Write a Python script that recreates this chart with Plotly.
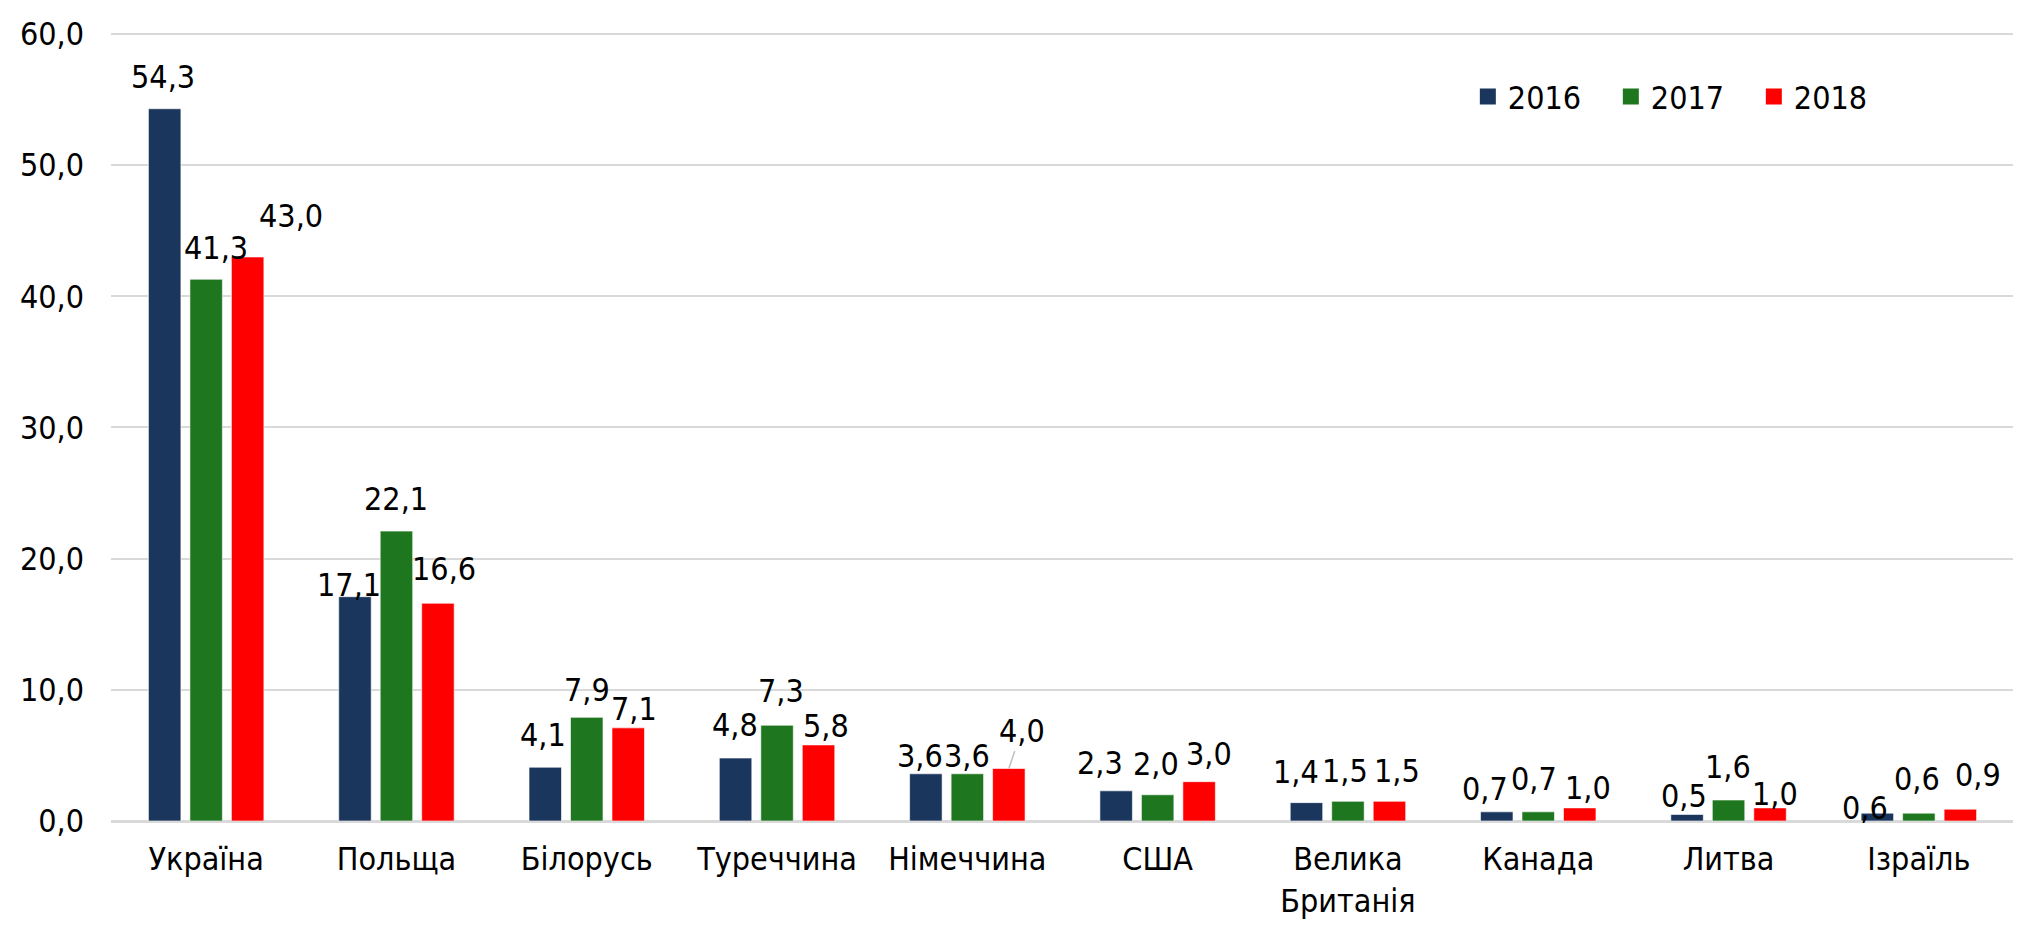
import plotly.graph_objects as go

categories = ["Україна", "Польща", "Білорусь", "Туреччина", "Німеччина", "США",
              "Велика<br>Британія", "Канада", "Литва", "Ізраїль"]
years = ["2016", "2017", "2018"]
v2016 = [54.3, 17.1, 4.1, 4.8, 3.6, 2.3, 1.4, 0.7, 0.5, 0.6]
v2017 = [41.3, 22.1, 7.9, 7.3, 3.6, 2.0, 1.5, 0.7, 1.6, 0.6]
v2018 = [43.0, 16.6, 7.1, 5.8, 4.0, 3.0, 1.5, 1.0, 1.0, 0.9]
colors = ["#1B365D", "#1E761E", "#FF0000"]

# label placement tweaks (px: dx right, dy down), as hand-placed in the original
nudge_2016 = [(-2, -5), (-6, 15), (-2, -5), (-1, -6), (-6, 9), (-16, -1), (-10, -4), (-12, 4), (-3, 9), (-12, 22)]
nudge_2017 = [(10, -4), (0, -5), (0, 0), (4, -7), (0, 9), (-2, -4), (-3, -3), (-4, -6), (-1, -6), (-2, -7)]
nudge_2018 = [(43, -14), (6, -7), (6, 8), (7, 8), (13, -11), (10, -1), (8, -3), (8, 7), (5, 13), (18, -7)]
leader_2018 = [False, False, False, False, True, False, False, False, False, False]

FONT = "DejaVu Sans Condensed, Tahoma, DejaVu Sans, sans-serif"
FS = 32

# page has an 8px default body margin; compensate
W, H = 2013, 919
ML, MR, MT, MB = 103, 7, 12.5, 99
YMAX = 60.15

fig = go.Figure()
series = [v2016, v2017, v2018]
for name, vals, col in zip(years, series, colors):
    fig.add_trace(go.Bar(
        x=categories, y=vals, name=name, showlegend=False,
        marker=dict(color=col, line=dict(color="rgba(255,255,255,0.6)", width=1)),
    ))
# legend entries with larger square swatches
for name, col in zip(years, colors):
    fig.add_trace(go.Scatter(
        x=[None], y=[None], name=name, mode="markers",
        marker=dict(symbol="square", size=18, color=col),
    ))

cat_w = (W - ML - MR) / len(categories)
bargap, bargroupgap = 0.346, 0.217
slot = cat_w * (1 - bargap) / 3
nudges = [nudge_2016, nudge_2017, nudge_2018]
for i, vals in enumerate(series):
    for j, (c, v) in enumerate(zip(categories, vals)):
        dx, dy = nudges[i][j]
        txt = f"{v:.1f}".replace(".", ",")
        if i == 2 and leader_2018[j]:
            fig.add_annotation(
                x=c, y=v, text=txt, xshift=(i - 1) * slot,
                showarrow=True, arrowhead=0, arrowwidth=1.5, arrowcolor="#BFBFBF",
                ax=dx, ay=-(15 - dy) - 12, standoff=0,
                font=dict(family=FONT, size=FS, color="#000000"),
            )
        else:
            fig.add_annotation(
                x=c, y=v, text=txt,
                showarrow=False, xshift=(i - 1) * slot + dx, yshift=6 - dy,
                yanchor="bottom", xanchor="center",
                font=dict(family=FONT, size=FS, color="#000000"),
            )

fig.update_layout(
    width=W, height=H,
    margin=dict(l=ML, r=MR, t=MT, b=MB),
    paper_bgcolor="white", plot_bgcolor="white",
    barmode="group", bargap=bargap, bargroupgap=bargroupgap,
    separators=", ",
    font=dict(family=FONT, size=FS, color="#000000"),
    showlegend=True,
    legend=dict(orientation="h", x=0.713, y=0.918, xanchor="left", yanchor="middle",
                font=dict(family=FONT, size=FS, color="#000000"),
                entrywidth=98, entrywidthmode="pixels",
                bgcolor="rgba(0,0,0,0)", itemsizing="trace"),
    xaxis=dict(showgrid=False, showline=False, ticks="",
               tickfont=dict(family=FONT, size=FS, color="#000000"),
               ticklabelstandoff=16),
    yaxis=dict(range=[0, YMAX], tickvals=[0, 10, 20, 30, 40, 50, 60], tickformat=".1f",
               showgrid=True, gridcolor="#D9D9D9", gridwidth=2,
               zeroline=True, zerolinecolor="#D9D9D9", zerolinewidth=3,
               showline=False, ticks="", ticklabeloverflow="allow",
               tickfont=dict(family=FONT, size=FS, color="#000000"),
               ticklabelstandoff=26),
)

fig.write_html("out.html")
